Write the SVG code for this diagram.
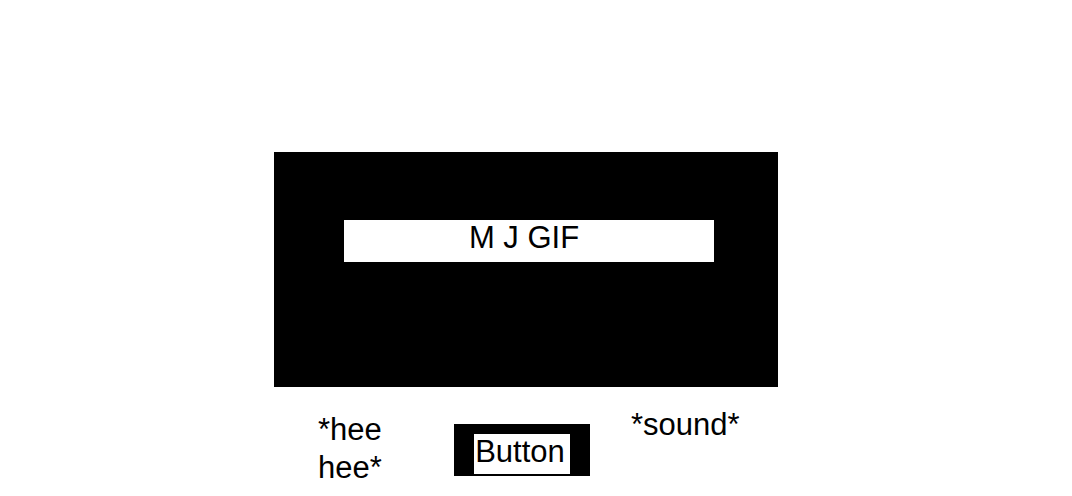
<svg xmlns="http://www.w3.org/2000/svg" width="1072" height="496" viewBox="0 0 1072 496">
<style>
.t{font-family:"Liberation Sans",Arial,sans-serif;font-size:31px;fill:#000}
.blk{fill:#000}
.wht{fill:#fff}
</style>
<rect width="1072" height="496" fill="#fff"/>
<g id="gif">
<rect class="blk" x="274" y="152" width="504" height="235"/>
<rect class="wht" x="344" y="220" width="370" height="42"/>
<text class="t" x="524" y="248" text-anchor="middle">M J GIF</text>
</g>
<g id="hee">
<text class="t" x="318" y="440">*hee</text>
<text class="t" x="318" y="478">hee*</text>
</g>
<g id="button">
<rect class="blk" x="454" y="424" width="136" height="52"/>
<rect class="wht" x="474" y="434" width="96" height="40"/>
<text class="t" x="520" y="462" text-anchor="middle">Button</text>
</g>
<g id="sound">
<text class="t" x="631" y="435">*sound*</text>
</g>
<g id="connectors"/>
</svg>
